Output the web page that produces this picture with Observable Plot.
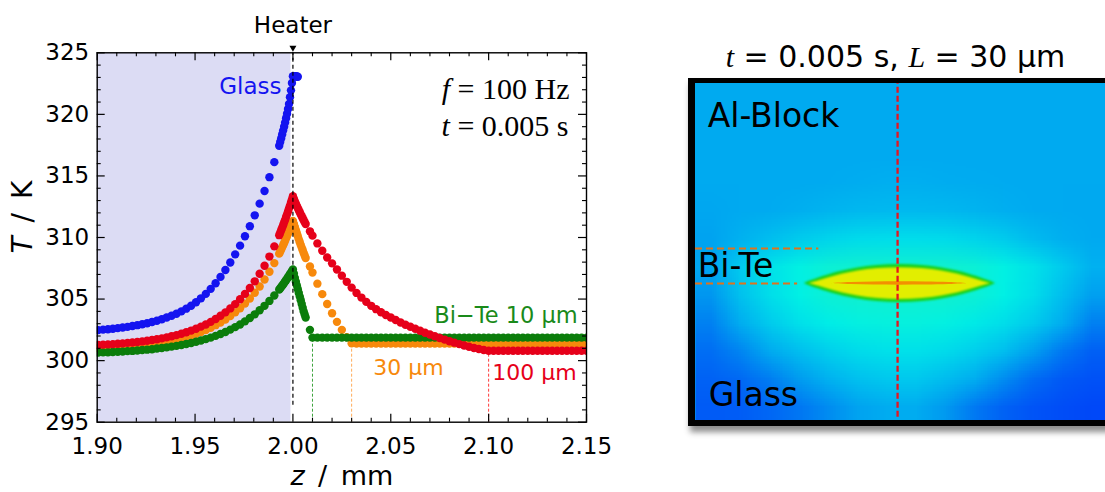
<!DOCTYPE html>
<html><head><meta charset="utf-8">
<script src="https://cdn.jsdelivr.net/npm/d3@7"></script>
<script src="https://cdn.jsdelivr.net/npm/@observablehq/plot@0.6"></script>
<style>
html,body{margin:0;padding:0;background:#fff}
body{width:1105px;height:492px;overflow:hidden;position:relative}
#left{position:absolute;left:0;top:0}
#box{position:absolute;left:688px;top:78px;width:430px;height:337px;border-left:7px solid #000;border-top:5px solid #000;border-bottom:6px solid #000;box-shadow:2px 6px 6px rgba(0,0,0,.45);overflow:hidden;background:#00aaf0}
#overlay{position:absolute;left:0;top:0;pointer-events:none}
</style></head><body>
<div id="left"></div>
<div id="box"></div>
<svg id="overlay" width="1105" height="492"><text x="895.5" y="67" text-anchor="middle" font-family="DejaVu Sans" font-size="30" fill="#000"><tspan font-family="Liberation Serif" font-style="italic">t</tspan> = 0.005 s, <tspan font-family="Liberation Serif" font-style="italic">L</tspan> = 30 μm</text></svg>
<script>
// ---------- Left chart data: z (mm) grid and T (K) per series ----------
const zGrid = [
 1.9005,1.903,1.9055,1.908,1.9105,1.913,1.9155,1.918,1.9205,1.923,
 1.9255,1.928,1.9305,1.933,1.9355,1.938,1.9405,1.943,1.9455,1.948,
 1.9505,1.953,1.9555,1.958,1.9605,1.963,1.9655,1.968,1.9705,1.973,
 1.9755,1.978,1.9805,1.983,1.9855,1.988,1.9905,1.993,
 1.9935,1.994,1.9945,1.995,1.9955,1.996,1.9965,1.997,1.9975,1.998,1.9985,1.999,1.9995,2.000,
 2.0005,2.001,2.0015,2.002,2.0025,2.003,2.0035,2.004,2.0045,2.005,2.0055,2.006,2.0065,
 2.0087,2.010,2.0125,2.015,2.0175,2.020,2.0225,2.025,2.0275,2.030,
 2.0325,2.035,2.0375,2.040,2.0425,2.045,2.0475,2.050,2.0525,2.055,
 2.0575,2.060,2.0625,2.065,2.0675,2.070,2.0725,2.075,2.0775,2.080,
 2.0825,2.085,2.0875,2.090,2.0925,2.095,2.0975,2.100,
 2.1025,2.105,2.1075,2.110,2.1125,2.115,2.1175,2.120,2.1225,2.125,
 2.1275,2.130,2.1325,2.135,2.1375,2.140,2.1425,2.145,2.1475,2.150];

const tGlass = [
 302.48,302.52,302.55,302.59,302.64,302.69,302.74,302.81,302.88,302.95,
 303.04,303.14,303.24,303.36,303.50,303.65,303.81,304.00,304.22,304.46,
 304.74,305.06,305.42,305.83,306.29,306.80,307.36,307.97,308.63,309.34,
 310.10,310.92,311.80,312.75,313.78,314.90,316.12,317.45,
 317.75,318.05,318.36,318.68,319.00,319.33,319.68,320.05,320.44,320.85,321.40,321.95,322.55,323.10,
 323.10,323.10,323.10,323.08,323.06];

const tBiTe100 = [
 301.28,301.30,301.32,301.34,301.37,301.40,301.44,301.47,301.52,301.56,
 301.61,301.67,301.74,301.81,301.89,301.98,302.07,302.18,302.31,302.44,
 302.59,302.76,302.94,303.15,303.38,303.64,303.92,304.24,304.59,304.98,
 305.42,305.90,306.44,307.05,307.71,308.45,309.28,310.19,
 310.39,310.59,310.79,311.00,311.22,311.43,311.66,311.88,312.11,312.35,312.59,312.84,313.09,313.35,
 313.12,312.92,312.74,312.56,312.39,312.22,312.05,311.88,311.72,311.56,311.40,311.25,311.10,
 310.50,310.15,309.52,308.92,308.38,307.90,307.40,306.90,306.40,305.93,
 305.50,305.12,304.77,304.45,304.18,303.93,303.70,303.50,303.30,303.10,
 302.92,302.75,302.59,302.43,302.27,302.12,301.98,301.84,301.71,301.58,
 301.46,301.34,301.23,301.13,301.03,300.94,300.86,300.80,
 300.80,300.80,300.80,300.80,300.80,300.80,300.80,300.80,300.80,300.80,
 300.80,300.80,300.80,300.80,300.80,300.80,300.80,300.80,300.80,300.80];

const tBiTe30 = [
 301.02,301.03,301.05,301.08,301.10,301.13,301.16,301.19,301.23,301.27,
 301.32,301.37,301.43,301.49,301.56,301.64,301.73,301.83,301.93,302.05,
 302.18,302.33,302.49,302.67,302.88,303.10,303.34,303.62,303.92,304.26,
 304.63,305.05,305.51,306.02,306.59,307.22,307.92,308.69,
 308.86,309.03,309.20,309.38,309.55,309.74,309.93,310.12,310.31,310.51,310.71,310.92,311.13,311.35,
 311.10,310.85,310.60,310.35,310.10,309.85,309.62,309.40,309.18,308.96,308.75,308.54,308.34,
 307.65,307.15,306.25,305.40,304.60,303.85,303.15,302.50,301.90,301.40,
 301.38,301.38,301.38,301.38,301.38,301.38,301.38,301.38,301.38,301.38,
 301.38,301.38,301.38,301.38,301.38,301.38,301.38,301.38,301.38,301.38,
 301.38,301.38,301.38,301.38,301.38,301.38,301.38,301.38,
 301.38,301.38,301.38,301.38,301.38,301.38,301.38,301.38,301.38,301.38,
 301.38,301.38,301.38,301.38,301.38,301.38,301.38,301.38,301.38,301.38];

const tBiTe10 = [
 300.65,300.67,300.68,300.70,300.72,300.74,300.77,300.79,300.82,300.86,
 300.89,300.93,300.98,301.02,301.08,301.14,301.20,301.27,301.35,301.43,
 301.53,301.63,301.75,301.87,302.01,302.16,302.33,302.52,302.72,302.94,
 303.19,303.46,303.76,304.09,304.45,304.85,305.29,305.77,
 305.87,305.98,306.09,306.19,306.30,306.42,306.53,306.65,306.77,306.89,307.01,307.14,307.27,307.40,
 307.05,306.72,306.40,306.10,305.80,305.50,305.20,304.90,304.60,304.30,304.00,303.75,303.50,
 302.50,301.87,301.87,301.87,301.87,301.87,301.87,301.87,301.87,301.87,
 301.87,301.87,301.87,301.87,301.87,301.87,301.87,301.87,301.87,301.87,
 301.87,301.87,301.87,301.87,301.87,301.87,301.87,301.87,301.87,301.87,
 301.87,301.87,301.87,301.87,301.87,301.87,301.87,301.87,
 301.87,301.87,301.87,301.87,301.87,301.87,301.87,301.87,301.87,301.87,
 301.87,301.87,301.87,301.87,301.87,301.87,301.87,301.87,301.87,301.87];

const glassZone = [1.900, 1.999];          // shaded glass region (mm)
const heaterZ = [2.000];                   // heater position (mm)
const layerEnds = [2.010, 2.030, 2.100];   // end of Bi-Te layers 10, 30, 100 µm
const layerEndT = [301.87, 301.38, 300.80];
const xMajorTicks = [1.90, 1.95, 2.00, 2.05, 2.10, 2.15];
const xMinorTicks = [1.91,1.92,1.93,1.94,1.96,1.97,1.98,1.99,2.01,2.02,2.03,2.04,2.06,2.07,2.08,2.09,2.11,2.12,2.13,2.14];
const yMajorTicks = [295, 300, 305, 310, 315, 320, 325];
const yMinorTicks = [296,297,298,299,301,302,303,304,306,307,308,309,311,312,313,314,316,317,318,319,321,322,323,324];
const xDomain = [1.90, 2.15], yDomain = [295, 325];

// ---------- Right panel data (µm): temperature field samples & lens ----------
const rDomain = [-173, 178], zDomain = [-117.4, 171.4];
const fieldCols = 14, fieldRows = 12;
const fieldT = [
 301.35,301.35,301.35,301.35,301.35,301.35,301.35,301.35,301.35,301.35,301.35,301.35,301.35,301.35,
 301.35,301.35,301.35,301.35,301.35,301.35,301.35,301.35,301.35,301.35,301.35,301.35,301.35,301.35,
 301.35,301.35,301.35,301.35,301.35,301.35,301.35,301.35,301.35,301.35,301.35,301.35,301.35,301.35,
 301.35,301.35,301.35,301.35,301.37,301.40,301.42,301.42,301.40,301.38,301.36,301.35,301.35,301.35,
 301.33,301.35,301.37,301.42,301.50,301.56,301.58,301.58,301.56,301.50,301.42,301.37,301.35,301.34,
 301.30,301.45,301.65,301.90,302.15,302.35,302.40,302.40,302.35,302.15,301.90,301.60,301.42,301.35,
 301.32,301.85,302.60,303.30,303.80,304.00,304.00,304.00,304.00,303.80,303.30,302.60,301.85,301.45,
 301.22,301.70,302.45,303.25,303.85,304.05,304.05,304.05,304.05,303.85,303.25,302.45,301.65,301.28,
 301.10,301.40,301.90,302.50,303.05,303.40,303.50,303.50,303.35,302.95,302.45,301.90,301.40,301.10,
 301.00,301.12,301.35,301.65,302.00,302.35,302.55,302.55,302.35,302.00,301.65,301.28,301.05,300.94,
 300.95,300.98,301.08,301.25,301.45,301.68,301.80,301.80,301.62,301.40,301.16,300.99,300.91,300.88,
 300.92,300.93,300.97,301.04,301.16,301.30,301.38,301.38,301.24,301.06,300.95,300.89,300.86,300.84];
const lensOuterR = [-80,-75,-68,-58,-47,-34,-17,2,21,38,51,62,72,79,84];
const lensOuterH = [0,2.1,4.6,7.8,10.7,13.3,15.5,16.3,15.5,13.3,10.7,7.8,4.6,2.1,0];
const lensInnerR = [-76,-68,-58,-47,-34,-17,2,21,38,51,62,72,80];
const lensInnerH = [0,2.2,5.2,8.1,10.7,12.8,13.6,12.8,10.7,8.1,5.2,2.2,0];
const lensCoreR = [-57,-40,-20,2,24,44,60];
const lensCoreH = [0,0.9,1.3,1.4,1.3,0.9,0];
const biTeTop = 30, biTeBottom = 0;        // Bi-Te layer bounds (µm)
const tempStops = [300.84,301.0,301.2,301.35,301.8,302.5,303.2,304.05];

// ---------- styles ----------
const colGlass = "#1414f0", colB30 = "#f7890c", colB10 = "#0b7d0b", colB100 = "#e6001a";
const W = 620, H = 492, mL = 96.7, mR = 34, mT = 52.3, mB = 70.3;
const fw = W - mL - mR, fh = H - mT - mB;
const rows = T => zGrid.map((z, i) => ({z, T: T[i]})).filter(d => d.T != null);
const dotOpts = {x: "z", y: "T", r: 4.2, clip: true};

const left = Plot.plot({
  width: W, height: H, marginLeft: mL, marginRight: mR, marginTop: mT, marginBottom: mB,
  x: {domain: xDomain}, y: {domain: yDomain},
  style: {fontFamily: "'DejaVu Sans', sans-serif", fontSize: "23px", background: "transparent", color: "#000"},
  marks: [
    Plot.rect([glassZone], {x1: d => d[0], x2: d => d[1], fill: "#dcdcf4"}),
    Plot.ruleX([0], {x: () => layerEnds[0], y1: () => yDomain[0], y2: () => layerEndT[0], stroke: "#3ea33e", strokeWidth: 1, strokeDasharray: "3,2"}),
    Plot.ruleX([0], {x: () => layerEnds[1], y1: () => yDomain[0], y2: () => layerEndT[1], stroke: "#ffac5a", strokeWidth: 1, strokeDasharray: "3,2"}),
    Plot.ruleX([0], {x: () => layerEnds[2], y1: () => yDomain[0], y2: () => layerEndT[2], stroke: "#ff3b3b", strokeWidth: 1, strokeDasharray: "3,2"}),
    Plot.dot(rows(tGlass), {...dotOpts, fill: colGlass}),
    Plot.dot(rows(tBiTe30), {...dotOpts, fill: colB30}),
    Plot.dot(rows(tBiTe10), {...dotOpts, fill: colB10}),
    Plot.dot(rows(tBiTe100), {...dotOpts, fill: colB100}),
    Plot.ruleX(heaterZ, {x: d => d, y1: () => yDomain[0], y2: () => yDomain[1], insetTop: -17, stroke: "#000", strokeWidth: 1.2, strokeDasharray: "4,3"}),
    Plot.dot(heaterZ, {x: d => d, y: () => yDomain[1], dy: -5, symbol: "triangle", rotate: 180, r: 2.6, fill: "#000"}),
    Plot.frame({stroke: "#000", strokeWidth: 1.4}),
    Plot.tickX(xMajorTicks, {x: d => d, insetTop: fh - 8, strokeWidth: 1.2}),
    Plot.tickX(xMajorTicks, {x: d => d, insetBottom: fh - 8, strokeWidth: 1.2}),
    Plot.tickX(xMinorTicks, {x: d => d, insetTop: fh - 4, strokeWidth: 1.1}),
    Plot.tickX(xMinorTicks, {x: d => d, insetBottom: fh - 4, strokeWidth: 1.1}),
    Plot.tickY(yMajorTicks, {y: d => d, insetRight: fw - 8, strokeWidth: 1.2}),
    Plot.tickY(yMajorTicks, {y: d => d, insetLeft: fw - 8, strokeWidth: 1.2}),
    Plot.tickY(yMinorTicks, {y: d => d, insetRight: fw - 4, strokeWidth: 1.1}),
    Plot.tickY(yMinorTicks, {y: d => d, insetLeft: fw - 4, strokeWidth: 1.1}),
    Plot.axisX(xMajorTicks, {tickSize: 0, tickPadding: 15, tickFormat: d => d.toFixed(2), label: null}),
    Plot.axisY(yMajorTicks, {tickSize: 0, tickPadding: 8, tickFormat: d => String(d), label: null}),
    Plot.text(heaterZ, {x: d => d, y: () => yDomain[1], text: () => "Heater", dy: -20, lineAnchor: "bottom", fontSize: 23}),
    Plot.text(["Glass"], {x: 1.9942, y: 322.26, textAnchor: "end", lineAnchor: "middle", fill: colGlass, fontSize: 23}),
    Plot.text(["Bi\u2212Te 10 μm"], {x: 2.1455, y: 303.62, textAnchor: "end", lineAnchor: "middle", fill: "#1a8a1a", fontSize: 22.5}),
    Plot.text(["30 μm"], {x: 2.077, y: 299.38, textAnchor: "end", lineAnchor: "middle", fill: colB30, fontSize: 22}),
    Plot.text(["100 μm"], {x: 2.1450, y: 299.03, textAnchor: "end", lineAnchor: "middle", fill: colB100, fontSize: 22}),
    Plot.text(["f = 100 Hz"], {frameAnchor: "top-right", dx: -17, dy: 46, textAnchor: "end", lineAnchor: "bottom", fontFamily: "'Liberation Serif', serif", fontSize: 30}),
    Plot.text(["t = 0.005 s"], {frameAnchor: "top-right", dx: -18, dy: 83.4, textAnchor: "end", lineAnchor: "bottom", fontFamily: "'Liberation Serif', serif", fontSize: 30}),
    Plot.text(["z\u2002/\u2002mm"], {frameAnchor: "bottom", dy: 63, lineAnchor: "bottom", fontSize: 27}),
    Plot.text(["T\u2002/\u2002K"], {frameAnchor: "left", dx: -73.7, dy: 16, rotate: -90, lineAnchor: "middle", fontSize: 28})
  ]
});

function italicize(svg, map) {
  const ns = "http://www.w3.org/2000/svg";
  svg.querySelectorAll("text").forEach(t => {
    const spec = map[t.textContent];
    if (!spec) return;
    t.textContent = "";
    const ts = document.createElementNS(ns, "tspan");
    ts.setAttribute("font-style", "italic");
    ts.textContent = spec[0];
    t.appendChild(ts);
    t.appendChild(document.createTextNode(spec[1]));
  });
}
italicize(left, {
  "f = 100 Hz": ["f", " = 100 Hz"],
  "t = 0.005 s": ["t", " = 0.005 s"],
  "z\u2002/\u2002mm": ["z", "\u2002/\u2002mm"],
  "T\u2002/\u2002K": ["T", "\u2002/\u2002K"]
});
document.getElementById("left").appendChild(left);

// ---------- Right panel ----------
const lens = (R, Hh) => R.map((r, i) => ({r, h: Hh[i]}));
const right = Plot.plot({
  width: 410, height: 337, margin: 0,
  x: {domain: rDomain, axis: null}, y: {domain: zDomain, axis: null},
  color: {type: "linear", domain: tempStops, range: ["#0048f8","#006ef4","#0094f0","#00aaf0","#00c8ee","#00e0ea","#00f0e6","#10f0d0"], interpolate: "rgb", clamp: true},
  style: {background: "transparent", fontFamily: "'DejaVu Sans', sans-serif"},
  marks: [
    Plot.raster(fieldT, {width: fieldCols, height: fieldRows, x1: rDomain[0], x2: rDomain[1], y1: zDomain[1], y2: zDomain[0], fill: d => d}),
    Plot.areaY(lens(lensOuterR, lensOuterH), {x: "r", y1: d => -d.h, y2: d => d.h, fill: "#18d018", curve: "catmull-rom", imageFilter: "blur(1.3px)"}),
    Plot.areaY(lens(lensInnerR, lensInnerH), {x: "r", y1: d => -d.h, y2: d => d.h, fill: "#e2ee00", curve: "catmull-rom", imageFilter: "blur(1.2px)"}),
    Plot.areaY(lens(lensCoreR, lensCoreH), {x: "r", y1: d => -d.h, y2: d => d.h, fill: "#f39000", curve: "catmull-rom", imageFilter: "blur(0.6px)"}),
    Plot.ruleY([biTeTop], {y: d => d, x1: () => rDomain[0], x2: () => -67.4, stroke: "#e0731c", strokeWidth: 2.2, strokeDasharray: "7,4"}),
    Plot.ruleY([biTeBottom], {y: d => d, x1: () => rDomain[0], x2: () => -85.6, stroke: "#e0731c", strokeWidth: 2.2, strokeDasharray: "7,4"}),
    Plot.ruleX([0], {x: d => d, y1: () => -114.6, y2: () => zDomain[1], stroke: "#e8141e", strokeWidth: 2.3, strokeDasharray: "6,3"}),
    Plot.text(["Al-Block"], {x: -162.6, y: 134.5, textAnchor: "start", lineAnchor: "bottom", fontSize: 33, fill: "#000"}),
    Plot.text(["Bi-Te"], {x: -171.1, y: 5.4, textAnchor: "start", lineAnchor: "bottom", fontSize: 33, fill: "#000"}),
    Plot.text(["Glass"], {x: -161.7, y: -104.6, textAnchor: "start", lineAnchor: "bottom", fontSize: 33, fill: "#000"})
  ]
});
document.getElementById("box").appendChild(right);
</script>
</body></html>
